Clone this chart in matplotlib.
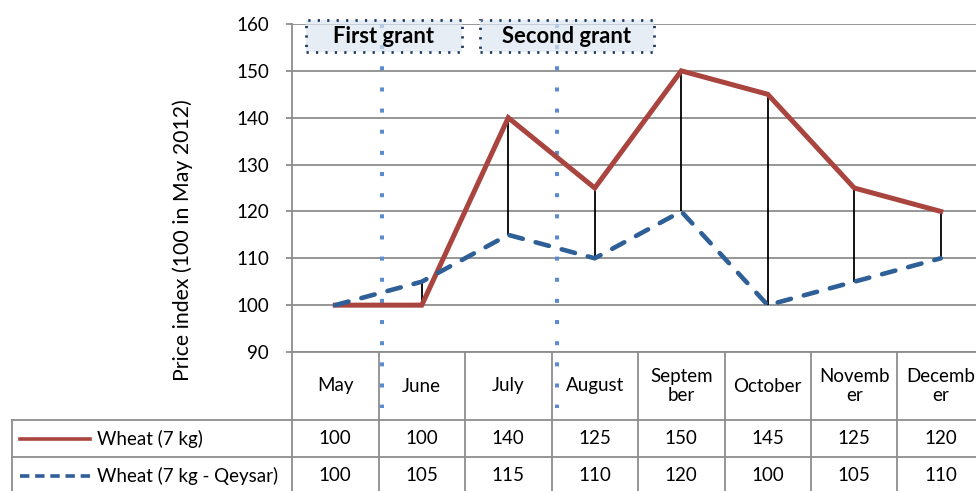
import matplotlib
matplotlib.use('Agg')
import matplotlib.pyplot as plt
import matplotlib.transforms as mtransforms
from matplotlib.patches import Rectangle
import numpy as np

# data
months = ['May', 'June', 'July', 'August', 'Septem\nber', 'October', 'Novemb\ner', 'Decemb\ner']
wheat = [100, 100, 140, 125, 150, 145, 125, 120]
wheat_qeysar = [100, 105, 115, 110, 120, 100, 105, 110]
series_names = ['Wheat (7 kg)', 'Wheat (7 kg - Qeysar)']
grants = ['First grant', 'Second grant']

plt.rcParams['font.family'] = ['Lato', 'DejaVu Sans']

red = '#A9443F'
blue = '#2F5F97'
grid_c = '#8E8E8E'
dot_c = '#5B8BD0'
fs = 13.5

fig = plt.figure(figsize=(9.76, 4.91), dpi=100)
ax = fig.add_axes([292 / 976, 139 / 491, 692 / 976, 328 / 491])
x = np.arange(len(months))
ax.set_xlim(-0.5, len(months) - 0.5)
ax.set_ylim(90, 160)
ax.set_yticks(range(90, 161, 10))
ax.set_xticks([])
ax.yaxis.grid(True, color=grid_c, lw=1.3)
ax.set_axisbelow(True)
for s in ['top', 'right']:
    ax.spines[s].set_visible(False)
for s in ['left', 'bottom']:
    ax.spines[s].set_color(grid_c)
    ax.spines[s].set_linewidth(1.3)
ax.tick_params(axis='y', length=4.5, width=1.3, color=grid_c, pad=12, labelsize=fs)

# grant markers (vertical dotted lines)
trans = mtransforms.blended_transform_factory(ax.transData, ax.transAxes)
for gx in [0.54, 2.56]:
    ax.plot([gx, gx], [1, -56 / 328], transform=trans, color=dot_c, lw=2.9,
            linestyle=(0, (1.0, 4.25)), clip_on=False, zorder=1)

# high-low lines
lo = np.minimum(wheat, wheat_qeysar)
hi = np.maximum(wheat, wheat_qeysar)
ax.vlines(x, lo, hi, color='black', lw=1.3, zorder=2)

# series
ax.plot(x, wheat, color=red, lw=3.6, solid_joinstyle='miter', zorder=3)
ax.plot(x, wheat_qeysar, color=blue, lw=3.3, linestyle=(0, (3.0, 2.9)),
        dash_capstyle='round', zorder=4)

# grant boxes
boxes = [(-0.338, 1.465), (1.673, 3.685)]
for (x0, x1), label in zip(boxes, grants):
    ax.add_patch(Rectangle((x0, 154.0), x1 - x0, 6.85, facecolor='#DCE6F2', alpha=0.7,
                           edgecolor='none', clip_on=False, zorder=5))
    ax.add_patch(Rectangle((x0, 154.0), x1 - x0, 6.85, facecolor='none',
                           edgecolor='#1F3A5F', lw=2, linestyle=(0, (0.8, 2.6)),
                           clip_on=False, zorder=6))
    ax.text((x0 + x1) / 2, 157.4, label, ha='center', va='center', fontsize=15.8,
            fontweight='bold', zorder=7)

# y label
fig.text(183 / 976, 1 - 240 / 491, 'Price index (100 in May 2012)', rotation=90,
         ha='center', va='center', fontsize=15.3)

# data table
rows = [0, -68 / 328, -105 / 328, -142 / 328]
left = -3.737
for k in range(len(months) + 1):
    ax.plot([k - 0.5, k - 0.5], [rows[0], rows[-1]], transform=trans, color=grid_c,
            lw=1.3, clip_on=False)
ax.plot([left, left], [rows[1], rows[-1]], transform=trans, color=grid_c, lw=1.3, clip_on=False)
for r in rows[1:]:
    ax.plot([left, len(months) - 0.5], [r, r], transform=trans, color=grid_c, lw=1.3,
            clip_on=False)

for i, m in enumerate(months):
    ax.text(i, (rows[0] + rows[1]) / 2, m, transform=trans, ha='center', va='center',
            fontsize=fs, linespacing=1.1)
for vals, r0, r1 in [(wheat, rows[1], rows[2]), (wheat_qeysar, rows[2], rows[3])]:
    for i, v in enumerate(vals):
        ax.text(i, (r0 + r1) / 2, str(v), transform=trans, ha='center', va='center',
                fontsize=fs)

# legend keys inside table
styles = [dict(color=red, lw=2.6), dict(color=blue, lw=2.6, linestyle=(0, (2.6, 1.6)))]
for name, st, r0, r1 in zip(series_names, styles, rows[1:3], rows[2:4]):
    yc = (r0 + r1) / 2
    ax.plot([-3.645, -2.835], [yc, yc], transform=trans, clip_on=False, **st)
    ax.text(-2.754, yc, name, transform=trans, ha='left', va='center', fontsize=fs)

fig.savefig('out.png', dpi=100)
